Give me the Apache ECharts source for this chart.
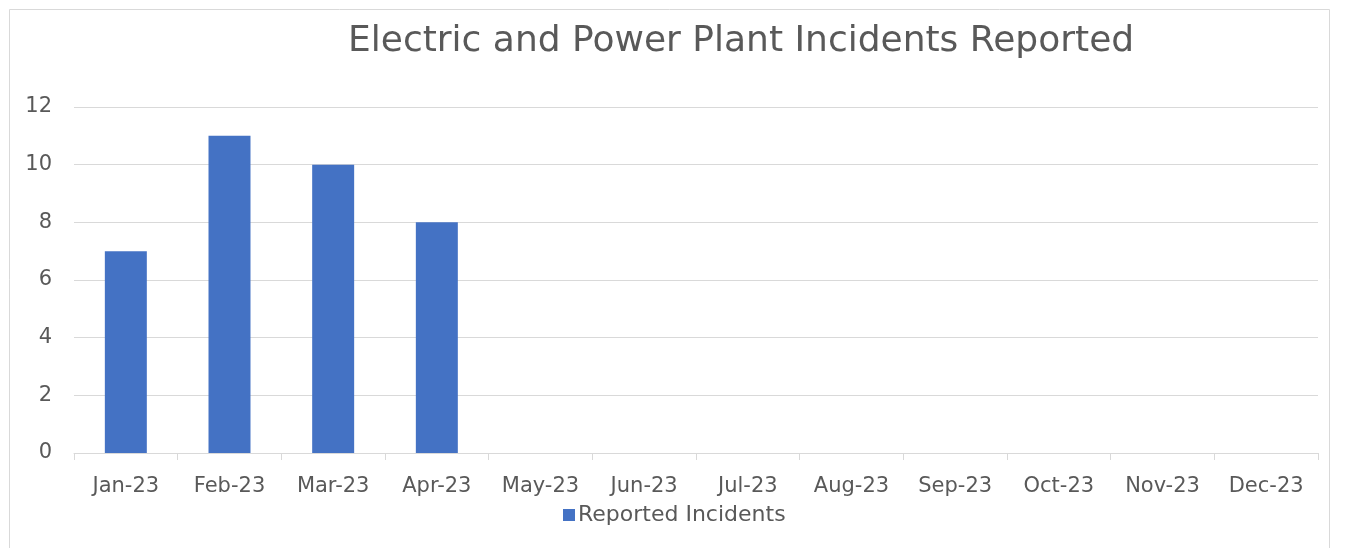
<!DOCTYPE html>
<html><head><meta charset="utf-8">
<script src="https://cdn.jsdelivr.net/npm/echarts@6/dist/echarts.min.js"></script>
<style>html,body{margin:0;padding:0;background:#fff}#c{width:1348px;height:548px}</style>
</head><body><div id="c"></div>
<script>
const categories = ['Jan-23','Feb-23','Mar-23','Apr-23','May-23','Jun-23','Jul-23','Aug-23','Sep-23','Oct-23','Nov-23','Dec-23'];
const reportedIncidents = [7, 11, 10, 8, null, null, null, null, null, null, null, null];
const yTicks = [0, 2, 4, 6, 8, 10, 12];
const titleText = 'Electric and Power Plant Incidents Reported';
const seriesName = 'Reported Incidents';

const FONT = 'DejaVu Sans';
const chart = echarts.init(document.getElementById('c'), null, {renderer: 'canvas'});
chart.setOption({
  animation: false,
  backgroundColor: '#fff',
  graphic: [{
    type: 'rect', left: 7, top: 7, shape: {width: 1320, height: 560},
    style: {fill: 'none', stroke: '#d9d9d9', lineWidth: 1}, silent: true, z: -1
  }],
  title: {
    text: titleText, left: 343, top: 19,
    textStyle: {fontFamily: FONT, fontSize: 36, fontWeight: 'normal', color: '#595959'}
  },
  legend: {
    data: [seriesName], top: 504, left: 563, padding: 0, icon: 'rect',
    itemWidth: 12, itemHeight: 12, itemGap: 6,
    textStyle: {fontFamily: FONT, fontSize: 22, color: '#595959', padding: [0,0,0,-2]}
  },
  grid: {left: 74, right: 30, top: 107, bottom: 95, containLabel: false},
  xAxis: {
    type: 'category', data: categories,
    axisLine: {lineStyle: {color: '#d9d9d9', width: 1}},
    axisTick: {show: true, length: 7, lineStyle: {color: '#d9d9d9'}},
    axisLabel: {fontFamily: FONT, fontSize: 21, color: '#595959', margin: 23}
  },
  yAxis: {
    type: 'value', min: yTicks[0], max: yTicks[yTicks.length-1], interval: 2,
    axisLine: {show: false}, axisTick: {show: false},
    splitLine: {lineStyle: {color: '#d9d9d9', width: 1}},
    axisLabel: {fontFamily: FONT, fontSize: 21, color: '#595959', margin: 22}
  },
  series: [{
    name: seriesName, type: 'bar', data: reportedIncidents,
    barWidth: '40.5%', itemStyle: {color: '#4472c4'}
  }]
});
</script></body></html>
